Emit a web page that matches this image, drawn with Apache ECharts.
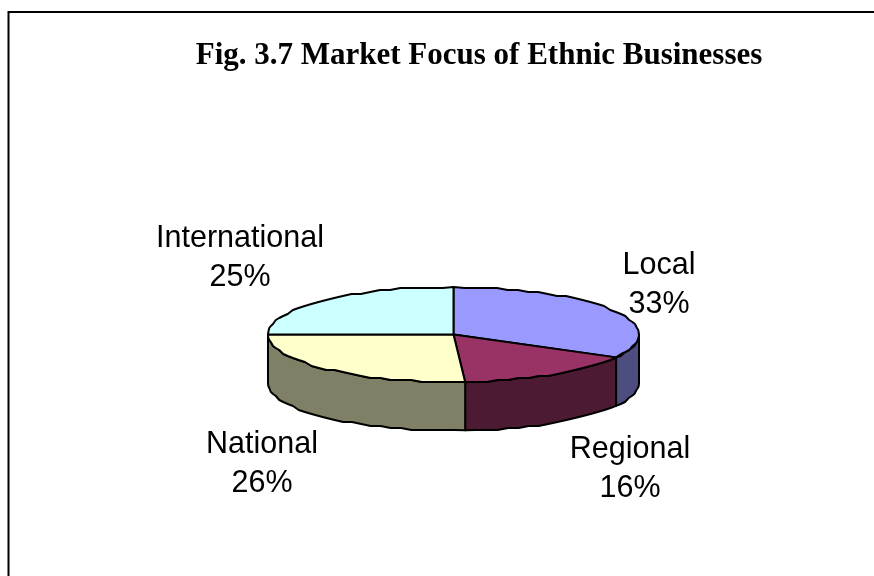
<!DOCTYPE html>
<html><head><meta charset="utf-8">
<style>html,body{margin:0;padding:0;background:#fff}#c{width:874px;height:576px}</style>
<script src="https://cdn.jsdelivr.net/npm/echarts@6/dist/echarts.min.js"></script>
</head><body><div id="c"></div>
<script>
const categories = ['Local', 'Regional', 'National', 'International'];
const seriesValues = [33, 16, 26, 25];
const titleText = 'Fig. 3.7 Market Focus of Ethnic Businesses';
const topColors = ['#9999ff', '#993366', '#ffffcc', '#ccffff'];
const sideColors = ['#4d4d80', '#4d1a33', '#808066', '#668080'];
const labelAnchors = [[659,285],[630,469],[262,464],[240,258]];

const total = seriesValues.reduce((a, b) => a + b, 0);
const DEPTH = 1.02; // thickness of the pie in y-axis units
let cum = 0;
const rows = seriesValues.map((v, i) => {
  const s = cum / total * Math.PI * 2; cum += v;
  return [s, cum / total * Math.PI * 2, i];
});

// rim points; y is snapped lightly to give the soft scalloped edge of the source bitmap
function arcPts(api, a0, a1, dy) {
  const n = Math.max(2, Math.ceil((a1 - a0) / 0.06)), pts = [];
  for (let k = 0; k <= n; k++) {
    const a = a0 + (a1 - a0) * k / n;
    const p = api.coord([Math.sin(a), Math.cos(a) - dy]);
    if (k > 0 && k < n) p[1] = Math.round(p[1] / 2) * 2;
    pts.push(p);
  }
  return pts;
}
const stroke = {stroke: '#000', lineWidth: 2, lineJoin: 'round'};

function renderSides(params, api) {
  const a0 = api.value(0), a1 = api.value(1), i = api.value(2);
  const s = Math.max(a0, Math.PI / 2), e = Math.min(a1, Math.PI * 1.5);
  if (e <= s) return {type: 'group', children: []};
  const upper = arcPts(api, s, e, 0), lower = arcPts(api, s, e, DEPTH).reverse();
  return {type: 'polygon', shape: {points: upper.concat(lower)},
    style: Object.assign({fill: sideColors[i]}, stroke)};
}
function renderTop(params, api) {
  const a0 = api.value(0), a1 = api.value(1), i = api.value(2);
  return {type: 'polygon',
    shape: {points: [api.coord([0, 0])].concat(arcPts(api, a0, a1, 0))},
    style: Object.assign({fill: topColors[i]}, stroke)};
}

const chart = echarts.init(document.getElementById('c'), null, {renderer: 'canvas'});
chart.setOption({
  animation: false,
  backgroundColor: '#fff',
  title: {text: titleText, left: 474, top: 35, textAlign: 'center',
    textStyle: {fontFamily: 'Liberation Serif', fontWeight: 'bold', fontSize: 31, color: '#000'}},
  grid: {left: 268, width: 371, top: 287, height: 95},
  xAxis: {type: 'value', min: -1, max: 1, show: false},
  yAxis: {type: 'value', min: -1, max: 1, show: false},
  graphic: [
    {type: 'polyline', z: 0, silent: true,
     shape: {points: [[8.5, 600], [8.5, 12], [900, 12]]},
     style: {stroke: '#000', lineWidth: 2, fill: null}}
  ].concat(categories.map((c, i) => ({
    type: 'text', z: 10, silent: true, x: labelAnchors[i][0], y: labelAnchors[i][1],
    style: {text: c + '\n' + seriesValues[i] + '%', fontFamily: 'Liberation Sans', fontSize: 30.5,
      lineHeight: 39, fill: '#000', align: 'center', verticalAlign: 'middle'}
  }))),
  series: [
    {type: 'custom', coordinateSystem: 'cartesian2d', z: 2, data: rows, renderItem: renderSides, silent: true, clip: false,
     encode: {x: 0, y: 1}},
    {type: 'custom', coordinateSystem: 'cartesian2d', z: 3, data: rows, renderItem: renderTop, silent: true, clip: false,
     encode: {x: 0, y: 1}}
  ]
});
</script></body></html>
